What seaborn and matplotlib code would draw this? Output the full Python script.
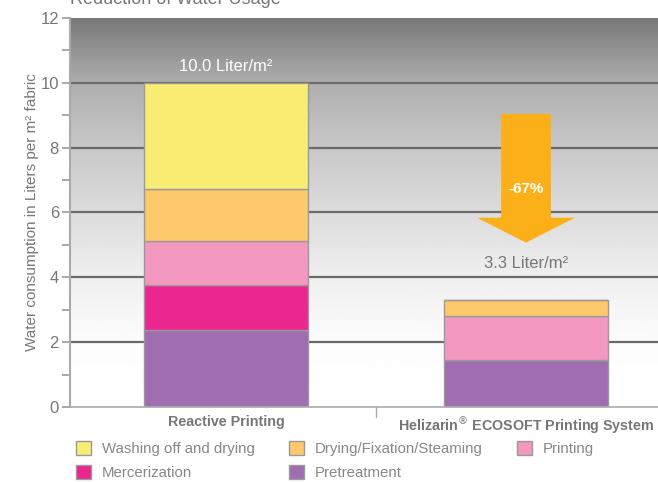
import numpy as np
import pandas as pd
import matplotlib.pyplot as plt
import seaborn as sns
from matplotlib.patches import Patch
from matplotlib.colors import LinearSegmentedColormap

# data
systems = ['Reactive Printing', 'Helizarin$^{®}$ ECOSOFT Printing System']
steps = ['Pretreatment', 'Mercerization', 'Printing', 'Drying/Fixation/Steaming', 'Washing off and drying']
pretreatment = [2.36, 1.44]
mercerization = [1.41, 0.0]
printing = [1.36, 1.38]
drying = [1.59, 0.49]
washing = [3.28, 0.0]
totals = ['10.0 Liter/m²', '3.3 Liter/m²']
reduction = '-67%'

colors = {
    'Pretreatment': '#a06eb0',
    'Mercerization': '#ec268f',
    'Printing': '#f398c0',
    'Drying/Fixation/Steaming': '#fec96a',
    'Washing off and drying': '#f8ec72',
}

sns.set_style('white')
plt.rcParams['font.family'] = ['Liberation Sans', 'DejaVu Sans']

df = pd.DataFrame({'system': systems, 'Pretreatment': pretreatment, 'Mercerization': mercerization,
                   'Printing': printing, 'Drying/Fixation/Steaming': drying,
                   'Washing off and drying': washing})

fig = plt.figure(figsize=(6.58, 4.82), dpi=100)
ax = fig.add_axes([0.1064, 0.1556, 0.8936, 0.8071])

# grey-to-white background
xlim = (-0.52, 1.44)
ys = np.linspace(0, 12, 200)
shade = np.interp(ys, [0, 2, 4, 6, 8, 10, 12], [255, 252, 239, 220, 200, 174, 120]) / 255
cmap = LinearSegmentedColormap.from_list('g', ['#000000', '#ffffff'])
ax.imshow(shade[:, None], extent=(xlim[0], xlim[1], 0, 12), origin='lower', aspect='auto',
          cmap=cmap, vmin=0, vmax=1, zorder=0)

for y in [2, 4, 6, 8, 10]:
    ax.axhline(y, color='#6a6a6a', lw=1.6, zorder=1)

bottom = np.zeros(len(systems))
for step in steps:
    sns.barplot(data=df, x='system', y=step, color=colors[step], bottom=bottom, width=0.545,
                saturation=1, edgecolor='#9a9a9a', linewidth=1, ax=ax, zorder=2)
    bottom = bottom + df[step].values

ax.set_xlim(*xlim)
ax.set_ylim(0, 12)

ax.text(0, 10.5, totals[0], color='white', ha='center', va='center', fontsize=12)
ax.text(1, 4.42, totals[1], color='#777777', ha='center', va='center', fontsize=12)

arrow = plt.Polygon([(0.917, 9.04), (1.083, 9.04), (1.083, 5.84), (1.164, 5.84), (1.0, 5.07),
                     (0.836, 5.84), (0.917, 5.84)], closed=True, color='#fbb01a', lw=0, zorder=3)
ax.add_patch(arrow)
ax.text(1.0, 6.72, reduction, color='white', fontweight='bold', ha='center', va='center',
        fontsize=11, zorder=4)

ax.set_yticks([0, 2, 4, 6, 8, 10, 12])
ax.set_yticks([1, 3, 5, 7, 9, 11], minor=True)
ax.tick_params(axis='y', which='both', left=True, length=6, width=1.2, color='#9a9a9a',
               labelsize=12, labelcolor='#777777', pad=2)
ax.set_xticks([0, 1])
ax.set_xticklabels(systems, fontweight='bold', fontsize=10.3, color='#777777')
ax.tick_params(axis='x', length=0, pad=6)
ax.set_xlabel('')
ax.set_ylabel('Water consumption in Liters per m² fabric', color='#777777', fontsize=11,
              labelpad=1)
for side in ['top', 'right']:
    ax.spines[side].set_visible(False)
ax.spines['left'].set_color('#aaaaaa')
ax.spines['left'].set_linewidth(1.5)
ax.spines['bottom'].set_color('#aaaaaa')
ax.spines['bottom'].set_linewidth(1.2)
ax.plot([0.5, 0.5], [0, -0.3], color='#aaaaaa', lw=1, clip_on=False)

fig.text(0.107, 1.002, 'Reduction of Water Usage', color='#777777', fontsize=13,
         ha='left', va='center')

order = ['Washing off and drying', 'Drying/Fixation/Steaming', 'Printing', 'Mercerization', 'Pretreatment']
handles = [Patch(facecolor=colors[s], edgecolor='#9a9a9a', label=s) for s in order]
leg = fig.legend(handles=[handles[0], handles[3], handles[1], handles[4], handles[2]],
                 loc='lower left', bbox_to_anchor=(0.095, -0.024), ncol=3, frameon=False,
                 fontsize=10.8, handlelength=1.0, handleheight=1.0, columnspacing=2.3,
                 labelspacing=0.6, handletextpad=0.7)
for t in leg.get_texts():
    t.set_color('#888888')

fig.savefig('out.png', dpi=100)
